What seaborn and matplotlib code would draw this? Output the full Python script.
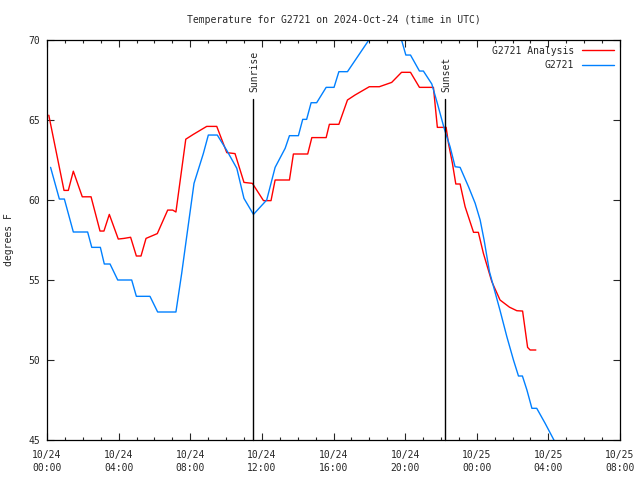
import matplotlib
matplotlib.use("Agg")
import matplotlib.pyplot as plt
import matplotlib.transforms as mtransforms
from matplotlib.ticker import MultipleLocator
import numpy as np
import pandas as pd
import seaborn as sns

# ---- data (hours since 2024-10-24 00:00 UTC, temperature in F) ----
analysis_hours = [0.1, 0.95, 1.19, 1.47, 1.97, 2.46, 2.96, 3.18, 3.48, 3.98, 4.3, 4.67,
                  4.99, 5.25, 5.53, 6.16, 6.74, 7.02, 7.2, 7.75, 8.17, 8.92, 9.48, 10.04,
                  10.5, 11.0, 11.47, 12.09, 12.51, 12.74, 13.54, 13.76, 14.56, 14.79,
                  15.59, 15.77, 16.3, 16.78, 17.2, 18.0, 18.56, 19.25, 19.8, 20.3, 20.8,
                  21.58, 21.8, 22.29, 22.42, 22.64, 22.83, 23.07, 23.35, 23.82, 24.09,
                  24.37, 24.84, 25.3, 25.83, 26.24, 26.56, 26.84, 26.98, 27.3]
analysis_temp = [65.3, 60.6, 60.6, 61.8, 60.2, 60.2, 58.06, 58.06, 59.1, 57.56, 57.6, 57.67,
                 56.5, 56.5, 57.6, 57.9, 59.37, 59.37, 59.25, 63.8, 64.1, 64.6, 64.6, 62.96,
                 62.9, 61.1, 61.04, 59.96, 59.96, 61.25, 61.25, 62.875, 62.875, 63.9,
                 63.9, 64.73, 64.73, 66.25, 66.56, 67.08, 67.08, 67.35, 67.98, 67.98, 67.04,
                 67.04, 64.54, 64.54, 63.54, 62.3, 61.0, 61.0, 59.58, 57.98, 57.98,
                 56.67, 54.9, 53.75, 53.3, 53.08, 53.06, 50.79, 50.625, 50.625]

station_hours = [0.2, 0.69, 0.97, 1.47, 2.27, 2.5, 2.98, 3.2, 3.52, 3.95, 4.73, 4.99, 5.75,
                 6.18, 7.2, 7.52, 7.8, 8.21, 8.73, 9.01, 9.51, 10.04, 10.6, 11.0, 11.53,
                 12.27, 12.74, 13.3, 13.54, 14.04, 14.28, 14.5, 14.75, 15.06, 15.59, 16.03,
                 16.3, 16.78, 18.0, 18.4, 19.5, 19.8, 20.04, 20.3, 20.8, 21.02, 21.49, 21.8,
                 22.18, 22.51, 22.79, 23.07, 23.54, 23.91, 24.19, 24.41, 24.71, 25.3, 25.68,
                 26.05, 26.33, 26.55, 26.8, 27.08, 27.35, 27.82, 28.29, 28.4]
station_temp = [62.04, 60.06, 60.06, 58.0, 58.0, 57.04, 57.04, 56.0, 56.0, 55.0, 55.0, 53.98,
                53.98, 53.0, 53.0, 55.4, 57.7, 61.04, 62.9, 64.06, 64.06, 63.1, 61.98, 60.1,
                59.1, 60.0, 62.04, 63.23, 64.02, 64.02, 65.04, 65.04, 66.08, 66.08, 67.04,
                67.04, 68.02, 68.02, 70.04, 70.6, 70.6, 70.0, 69.06, 69.06, 68.06, 68.06,
                67.25, 66.04, 64.48, 63.33, 62.08, 62.04, 60.83, 59.8, 58.75, 57.5, 55.52,
                53.1, 51.46, 50.0, 49.0, 49.0, 48.13, 46.98, 46.98, 46.04, 45.04, 44.8]

series_names = ["G2721 Analysis", "G2721"]
series_colors = ["#ff0000", "#0080ff"]

event_names = ["Sunrise", "Sunset"]
event_hours = [11.5, 22.23]

xtick_hours = [0, 4, 8, 12, 16, 20, 24, 28, 32]
xtick_labels = ["10/24\n00:00", "10/24\n04:00", "10/24\n08:00", "10/24\n12:00",
                "10/24\n16:00", "10/24\n20:00", "10/25\n00:00", "10/25\n04:00",
                "10/25\n08:00"]
ytick_values = [45, 50, 55, 60, 65, 70]

title = "Temperature for G2721 on 2024-Oct-24 (time in UTC)"
ylabel = "degrees F"

# ---- plot ----
sns.set_style("ticks")
plt.rcParams["font.family"] = ["DejaVu Sans Mono", "DejaVu Sans"]
plt.rcParams["font.size"] = 7

df = pd.concat([
    pd.DataFrame({"hour": analysis_hours, "temp": analysis_temp, "series": series_names[0]}),
    pd.DataFrame({"hour": station_hours, "temp": station_temp, "series": series_names[1]}),
])

fig = plt.figure(figsize=(6.4, 4.8), dpi=100)
ax = fig.add_axes([47 / 640, 40 / 480, (620 - 47) / 640, 400 / 480])

sns.lineplot(data=df, x="hour", y="temp", hue="series", hue_order=series_names,
             palette=dict(zip(series_names, series_colors)), estimator=None,
             sort=False, linewidth=1, ax=ax)

ax.set_xlim(0, 32)
ax.set_ylim(45, 70)
ax.set_xticks(xtick_hours)
ax.set_xticklabels(xtick_labels, linespacing=1.45)
ax.set_yticks(ytick_values)
ax.xaxis.set_minor_locator(MultipleLocator(1))
ax.tick_params(axis="both", which="major", direction="in", length=5, width=0.8,
               top=True, right=True, labelsize=7, pad=5)
ax.tick_params(axis="x", which="major", pad=7)
ax.tick_params(axis="x", which="minor", direction="in", length=2.5, width=0.8,
               top=True, bottom=True)
for s in ax.spines.values():
    s.set_linewidth(0.9)
    s.set_color("black")

ax.set_xlabel("")
ax.set_ylabel(ylabel, fontsize=7, labelpad=10)
ax.set_title(title, fontsize=7, pad=12)

trans = mtransforms.blended_transform_factory(ax.transData, ax.transAxes)
for name, h in zip(event_names, event_hours):
    ax.plot([h, h], [0, 0.853], color="black", lw=1, transform=trans, clip_on=False)
    ax.text(h + 0.08, 0.87, name, rotation=90, ha="center", va="bottom",
            fontsize=7, transform=trans)

leg = ax.legend(loc="upper right", frameon=False, markerfirst=False, handlelength=3.3,
                fontsize=7, labelspacing=0.45, borderaxespad=0.2, title=None)
for t in leg.get_texts():
    t.set_ha("right")

fig.savefig("out.png", dpi=100)
